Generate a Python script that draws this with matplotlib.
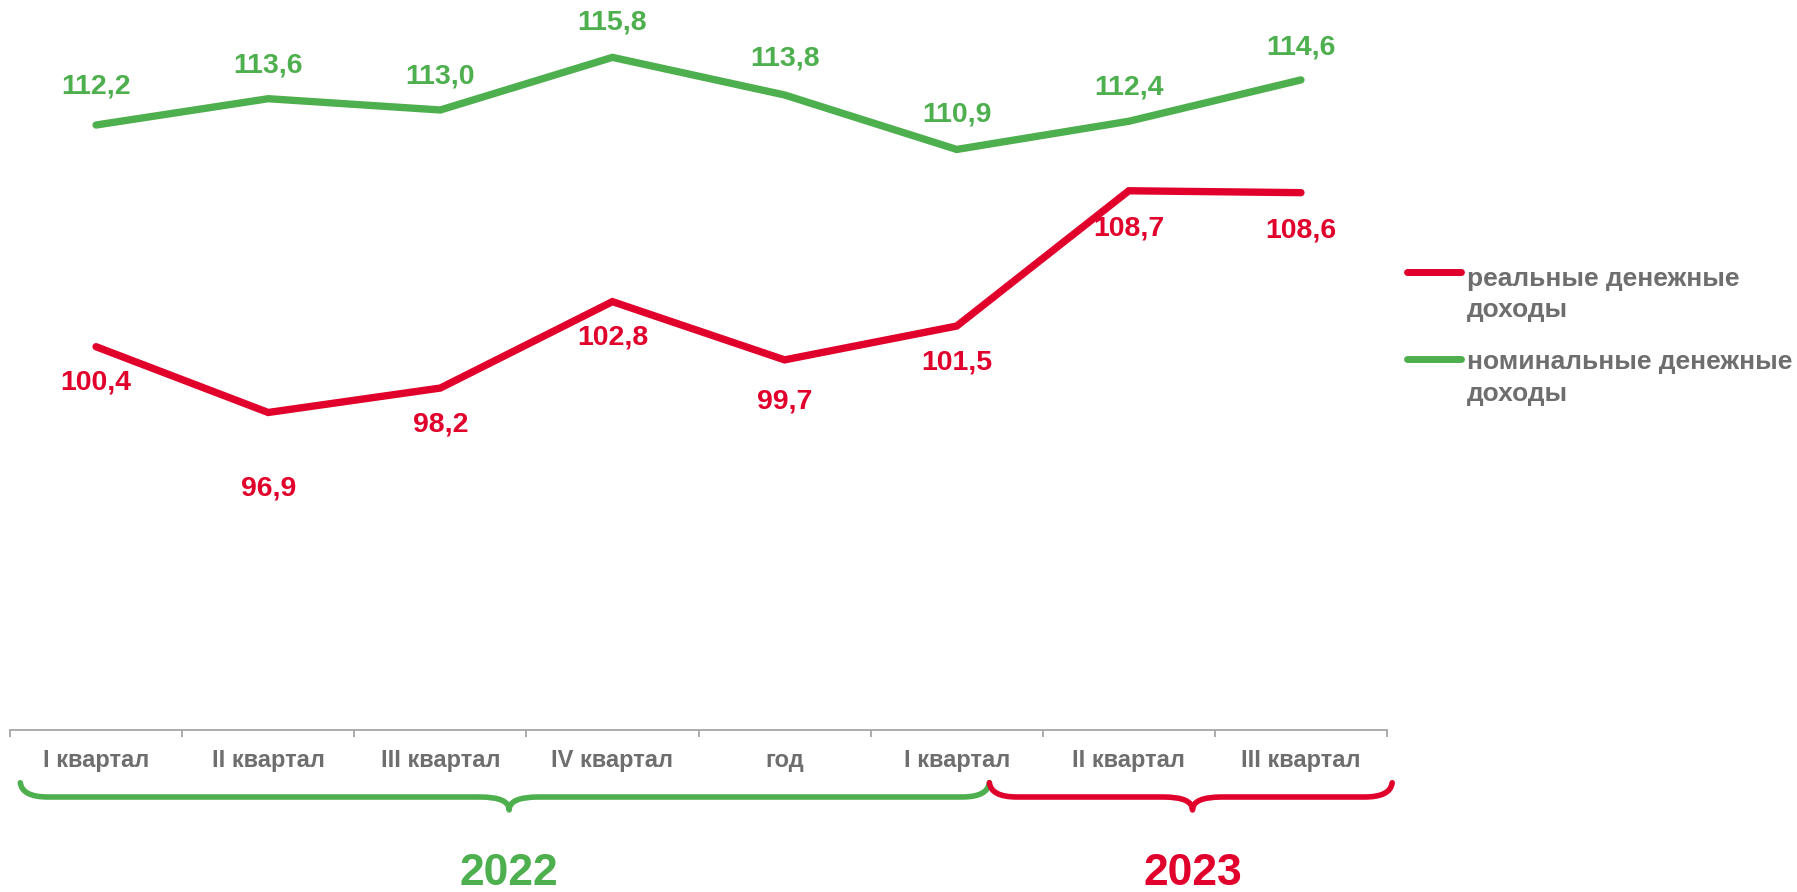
import matplotlib
matplotlib.use("Agg")
import matplotlib.pyplot as plt
from matplotlib.path import Path
from matplotlib.patches import PathPatch
from matplotlib.lines import Line2D
import matplotlib.transforms as mtransforms

plt.rcParams['font.family'] = ['Liberation Sans', 'DejaVu Sans']

categories = ["I квартал", "II квартал", "III квартал", "IV квартал", "год",
              "I квартал", "II квартал", "III квартал"]
real_income = [100.4, 96.9, 98.2, 102.8, 99.7, 101.5, 108.7, 108.6]
nominal_income = [112.2, 113.6, 113.0, 115.8, 113.8, 110.9, 112.4, 114.6]
series_names = ["реальные денежные\nдоходы", "номинальные денежные\nдоходы"]
years = ["2022", "2023"]

RED = "#E1002B"
GREEN = "#4EAF4E"
GRAY = "#6E6E6E"

# label offsets (points): positive = above, negative = below
nominal_off = [28, 24, 24, 25, 26, 25, 24, 23]
real_off = [-26, -55, -26, -26, -30, -26, -27, -27]

fig = plt.figure(figsize=(17.97, 8.92), dpi=100)
ax = fig.add_axes([10 / 1797, (892 - 730) / 892, (1387 - 10) / 1797, 730 / 892])

x = list(range(len(categories)))
ax.plot(x, real_income, color=RED, lw=5.3, solid_capstyle='round', solid_joinstyle='miter')
ax.plot(x, nominal_income, color=GREEN, lw=5.3, solid_capstyle='round', solid_joinstyle='miter')

def fmt(v):
    return f"{v:.1f}".replace(".", ",")

for xi, v, o in zip(x, nominal_income, nominal_off):
    ax.annotate(fmt(v), (xi, v), xytext=(0, o), textcoords='offset points',
                ha='center', va='center', fontsize=20.5, fontweight='bold', color=GREEN)
for xi, v, o in zip(x, real_income, real_off):
    ax.annotate(fmt(v), (xi, v), xytext=(0, o), textcoords='offset points',
                ha='center', va='center', fontsize=20.5, fontweight='bold', color=RED)

ax.set_xlim(-0.5, len(categories) - 0.5)
ax.set_ylim(80, 80 + 730 / 18.74 - 0.1)

for s in ['top', 'right', 'left']:
    ax.spines[s].set_visible(False)
ax.spines['bottom'].set_color('#A6A6A6')
ax.spines['bottom'].set_linewidth(1.3)
ax.set_yticks([])
ax.set_xticks([i - 0.5 for i in range(len(categories) + 1)])
ax.set_xticklabels([])
ax.tick_params(axis='x', which='major', length=5, width=1.3, color='#A6A6A6')
ax.set_xticks(x, minor=True)
ax.set_xticklabels(categories, minor=True)
ax.tick_params(axis='x', which='minor', length=0, pad=14, labelsize=17, labelcolor=GRAY)
for lab in ax.get_xticklabels(minor=True):
    lab.set_fontweight('bold')

# braces below the axis
trans = mtransforms.blended_transform_factory(ax.transData, fig.transFigure)

def brace(x0, x1, xc, color, y_top=0.1225, y_flat=0.1065, y_tip=0.092, r=0.16, rc=0.17):
    verts = [(x0, y_top), (x0 + 0.01, y_flat), (x0 + r, y_flat),
             (xc - rc, y_flat),
             (xc, y_flat), (xc, y_tip),
             (xc, y_flat), (xc + rc, y_flat),
             (x1 - r, y_flat),
             (x1 - 0.01, y_flat), (x1, y_top)]
    codes = [Path.MOVETO, Path.CURVE3, Path.CURVE3,
             Path.LINETO,
             Path.CURVE3, Path.CURVE3,
             Path.CURVE3, Path.CURVE3,
             Path.LINETO,
             Path.CURVE3, Path.CURVE3]
    p = PathPatch(Path(verts, codes), transform=trans, fill=False, edgecolor=color,
                  lw=4, capstyle='round', joinstyle='round', clip_on=False)
    ax.add_patch(p)

brace(-0.44, 5.19, 2.40, GREEN)
brace(5.19, 7.53, 6.37, RED)

ax.text(2.40, 0.0205, years[0], transform=trans, ha='center', va='center',
        fontsize=32, fontweight='bold', color=GREEN)
ax.text(6.37, 0.0205, years[1], transform=trans, ha='center', va='center',
        fontsize=32, fontweight='bold', color=RED)

# legend drawn at the right
for (y_line, y_text, col, name) in [(0.6955, 0.670, RED, series_names[0]),
                                     (0.598, 0.5765, GREEN, series_names[1])]:
    fig.add_artist(Line2D([0.783, 0.813], [y_line, y_line], transform=fig.transFigure,
                          color=col, lw=5, solid_capstyle='round'))
    fig.text(0.8165, y_text, name, ha='left', va='center', fontsize=19,
             fontweight='bold', color=GRAY, linespacing=1.4)

fig.savefig("out.png", dpi=100)
